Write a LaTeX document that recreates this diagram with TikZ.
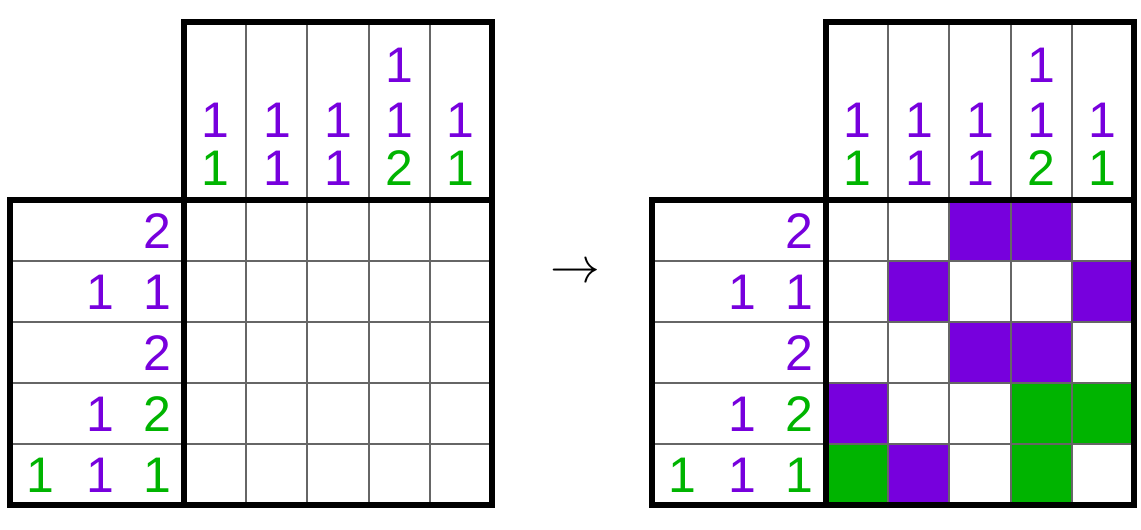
\documentclass[tikz,border=0pt]{standalone}
\usepackage{fontspec}
\setmainfont{Liberation Sans}
\definecolor{clpurple}{RGB}{119,0,221}
\definecolor{clgreen}{RGB}{0,180,0}
\tikzset{
  thin grid/.style={draw=black!60,line width=1pt},
  thick border/.style={draw=black,line width=3pt},
  clue/.style={font=\fontsize{25}{28}\selectfont,inner sep=0pt},
  pcl/.style={clue,text=clpurple},
  gcl/.style={clue,text=clgreen},
}
% one puzzle, shifted by #1 (px)
\newcommand{\nonogram}[1]{%
  \begin{scope}[xshift=#1*0.5pt]
    \foreach \i in {1,...,4}{
      \draw[thin grid] (184+\i*61.6,22) -- (184+\i*61.6,505);
      \draw[thin grid] (10,200+\i*61) -- (492,200+\i*61);
    }
    % column clues
    \node[pcl] (c1a) at (215,120) {1}; \node[gcl] (c1b) at (215,168) {1};
    \node[pcl] (c2a) at (277,120) {1}; \node[pcl] (c2b) at (277,168) {1};
    \node[pcl] (c3a) at (338,120) {1}; \node[pcl] (c3b) at (338,168) {1};
    \node[pcl] (c4a) at (399,65) {1}; \node[pcl] (c4b) at (399,120) {1};
    \node[gcl] (c4c) at (399,168) {2};
    \node[pcl] (c5a) at (460,120) {1}; \node[gcl] (c5b) at (460,168) {1};
    % row clues
    \node[pcl] (r1a) at (157,231) {2};
    \node[pcl] (r2a) at (100,292) {1}; \node[pcl] (r2b) at (157,292) {1};
    \node[pcl] (r3a) at (157,353) {2};
    \node[pcl] (r4a) at (100,414) {1}; \node[gcl] (r4b) at (157,414) {2};
    \node[gcl] (r5a) at (40,475) {1}; \node[pcl] (r5b) at (100,475) {1};
    \node[gcl] (r5c) at (157,475) {1};
  \end{scope}}
\begin{document}
\begin{tikzpicture}[x=0.5pt,y=-0.5pt]
  \useasboundingbox (0,0) rectangle (1141,530);
  % filled cells of the solution
  \begin{scope}[xshift=321pt]
    \foreach \r/\c/\col in {1/3/clpurple,1/4/clpurple,2/2/clpurple,2/5/clpurple,
        3/3/clpurple,3/4/clpurple,4/1/clpurple,4/4/clgreen,4/5/clgreen,
        5/1/clgreen,5/2/clpurple,5/4/clgreen}
      \fill[\col] (184+\c*61.6-61.6,200+\r*61-61) rectangle ++(61.6,61);
  \end{scope}
  \nonogram{0}
  \nonogram{642}
  \foreach \dx in {0,642}{
    \draw[thick border,xshift=\dx*0.5pt] (184,200) -- (184,22) -- (492,22) -- (492,505)
      -- (10,505) -- (10,200) -- cycle;
    \draw[thick border,xshift=\dx*0.5pt] (184,200) -- (184,505) (184,200) -- (492,200);
  }
  \node[font=\fontsize{54}{58}\selectfont,inner sep=0pt] (arrow) at (575,273) {$\rightarrow$};
\end{tikzpicture}
\end{document}
